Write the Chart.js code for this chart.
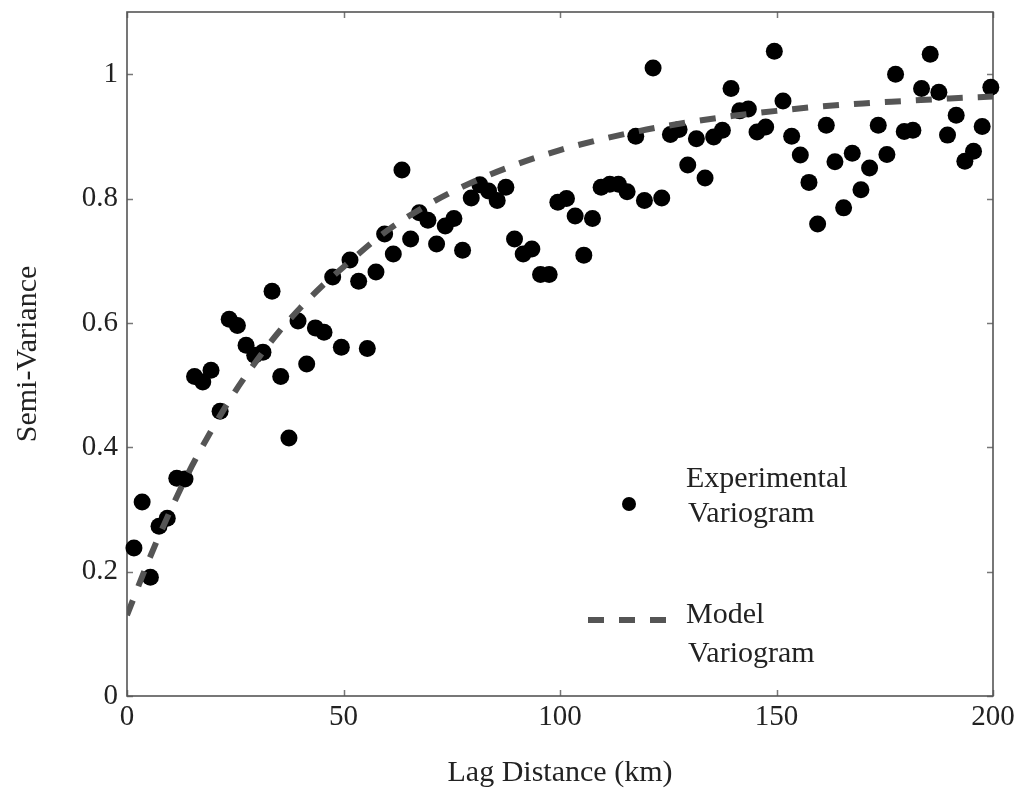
<!DOCTYPE html>
<html>
<head>
<meta charset="utf-8">
<script src="https://cdn.jsdelivr.net/npm/chart.js@4/dist/chart.umd.min.js"></script>
<style>
  html, body { margin: 0; padding: 0; background: #fff; }
  #wrap { width: 1019px; height: 795px; }
</style>
</head>
<body>
<div id="wrap"><canvas id="c" width="1019" height="795"></canvas></div>
<script>
// ---- data ----
const lagDistance = [
  1.6, 3.5, 5.4, 7.4, 9.3, 11.5, 13.4, 15.6, 17.5, 19.4,
  21.5, 23.6, 25.5, 27.5, 29.5, 31.4, 33.5, 35.5, 37.4, 39.5,
  41.5, 43.5, 45.5, 47.5, 49.5, 51.5, 53.5, 55.5, 57.5, 59.5,
  61.5, 63.5, 65.5, 67.5, 69.5, 71.5, 73.5, 75.5, 77.5, 79.5,
  81.5, 83.5, 85.5, 87.5, 89.5, 91.5, 93.5, 95.5, 97.5, 99.5,
  101.5, 103.5, 105.5, 107.5, 109.5, 111.5, 113.5, 115.5, 117.5, 119.5,
  121.5, 123.5, 125.5, 127.5, 129.5, 131.5, 133.5, 135.5, 137.5, 139.5,
  141.5, 143.5, 145.5, 147.5, 149.5, 151.5, 153.5, 155.5, 157.5, 159.5,
  161.5, 163.5, 165.5, 167.5, 169.5, 171.5, 173.5, 175.5, 177.5, 179.5,
  181.5, 183.5, 185.5, 187.5, 189.5, 191.5, 193.5, 195.5, 197.5, 199.5
];
const semiVariance = [
  0.238, 0.312, 0.191, 0.273, 0.286, 0.350, 0.349, 0.514, 0.505, 0.524,
  0.458, 0.606, 0.596, 0.564, 0.548, 0.553, 0.651, 0.514, 0.415, 0.603,
  0.534, 0.592, 0.585, 0.674, 0.561, 0.701, 0.667, 0.559, 0.682, 0.743,
  0.711, 0.846, 0.735, 0.777, 0.765, 0.727, 0.756, 0.768, 0.717, 0.801,
  0.822, 0.812, 0.797, 0.818, 0.735, 0.711, 0.719, 0.678, 0.678, 0.794,
  0.800, 0.772, 0.709, 0.768, 0.818, 0.823, 0.823, 0.811, 0.900, 0.797,
  1.010, 0.801, 0.903, 0.911, 0.854, 0.896, 0.833, 0.899, 0.910, 0.977,
  0.941, 0.944, 0.907, 0.915, 1.037, 0.957, 0.900, 0.870, 0.826, 0.759,
  0.918, 0.859, 0.785, 0.873, 0.814, 0.849, 0.918, 0.871, 1.000, 0.908,
  0.910, 0.977, 1.032, 0.971, 0.902, 0.934, 0.860, 0.876, 0.916, 0.979
];
const modelLag = [0, 5, 10, 15, 20, 25, 30, 35, 40, 45, 50, 60, 70, 80, 90, 100, 110, 120, 130, 140, 150, 160, 170, 180, 190, 200];
const modelValue = [0.13, 0.218, 0.298, 0.37, 0.433, 0.49, 0.54, 0.585, 0.624, 0.659, 0.69, 0.748, 0.792, 0.827, 0.855, 0.878, 0.896, 0.911, 0.923, 0.933, 0.941, 0.948, 0.953, 0.957, 0.961, 0.964];
const xTicks = [0, 50, 100, 150, 200];
const yTicks = [0, 0.2, 0.4, 0.6, 0.8, 1];
const xTitle = 'Lag Distance (km)';
const yTitle = 'Semi-Variance';
const legendExp = ['Experimental', 'Variogram'];
const legendModel = ['Model', 'Variogram'];

const FONT = '"Liberation Serif", "Times New Roman", serif';
const TEXT = '#222';
const DASH_COLOR = '#555';

const framePlugin = {
  id: 'frame',
  beforeDatasetsDraw(chart) {
    const {ctx, chartArea: a, scales} = chart;
    ctx.save();
    // inward ticks on all four sides
    ctx.strokeStyle = '#777';
    ctx.lineWidth = 1.5;
    const tl = 6;
    xTicks.forEach(v => {
      const px = Math.round(scales.x.getPixelForValue(v)) + 0.5;
      ctx.beginPath();
      ctx.moveTo(px, a.bottom); ctx.lineTo(px, a.bottom - tl);
      ctx.moveTo(px, a.top); ctx.lineTo(px, a.top + tl);
      ctx.stroke();
    });
    yTicks.forEach(v => {
      const py = Math.round(scales.y.getPixelForValue(v)) + 0.5;
      ctx.beginPath();
      ctx.moveTo(a.left, py); ctx.lineTo(a.left + tl, py);
      ctx.moveTo(a.right, py); ctx.lineTo(a.right - tl, py);
      ctx.stroke();
    });
    // box
    ctx.strokeStyle = '#555';
    ctx.lineWidth = 1.6;
    ctx.strokeRect(a.left, a.top, a.right - a.left, a.bottom - a.top);
    ctx.restore();
  },
  afterDatasetsDraw(chart) {
    const {ctx, chartArea: a} = chart;
    ctx.save();
    // legend
    const lx = a.left + 502;
    ctx.fillStyle = '#000';
    ctx.beginPath();
    ctx.arc(lx, a.top + 492, 7, 0, Math.PI * 2);
    ctx.fill();
    ctx.strokeStyle = DASH_COLOR;
    ctx.lineWidth = 6;
    ctx.setLineDash([16, 15]);
    ctx.beginPath();
    ctx.moveTo(a.left + 461, a.top + 608);
    ctx.lineTo(a.left + 541, a.top + 608);
    ctx.stroke();
    ctx.setLineDash([]);
    ctx.fillStyle = TEXT;
    ctx.font = '30px ' + FONT;
    ctx.textAlign = 'left';
    ctx.textBaseline = 'alphabetic';
    const tx = a.left + 559;
    ctx.fillText(legendExp[0], tx, a.top + 475);
    ctx.fillText(legendExp[1], tx + 2, a.top + 510);
    ctx.fillText(legendModel[0], tx, a.top + 611);
    ctx.fillText(legendModel[1], tx + 2, a.top + 650);
    ctx.restore();
  }
};

new Chart(document.getElementById('c'), {
  type: 'scatter',
  data: {
    datasets: [
      {
        type: 'line',
        label: 'Model Variogram',
        data: modelLag.map((x, i) => ({x, y: modelValue[i]})),
        borderColor: DASH_COLOR,
        borderWidth: 6,
        borderDash: [16, 15],
        borderCapStyle: 'butt',
        pointRadius: 0,
        fill: false,
        cubicInterpolationMode: 'monotone',
        order: 0
      },
      {
        label: 'Experimental Variogram',
        data: lagDistance.map((x, i) => ({x, y: semiVariance[i]})),
        backgroundColor: '#000',
        borderWidth: 0,
        pointRadius: 8.5,
        pointHoverRadius: 8.5,
        clip: false,
        order: 1
      }
    ]
  },
  options: {
    responsive: false,
    animation: false,
    events: [],
    layout: { padding: { top: 12, right: 26, left: 0, bottom: 0 } },
    plugins: { legend: { display: false }, tooltip: { enabled: false } },
    scales: {
      x: {
        type: 'linear', min: 0, max: 200,
        grid: { display: false, drawTicks: false },
        border: { display: false },
        afterBuildTicks: s => { s.ticks = xTicks.map(v => ({value: v})); },
        afterFit: s => { s.height = 99; s.paddingLeft = 0; s.paddingRight = 0; },
        ticks: { color: TEXT, font: { family: FONT, size: 29 }, padding: 4, maxRotation: 0,
                 callback: v => String(v) },
        title: { display: true, text: xTitle, color: TEXT, font: { family: FONT, size: 30 },
                 padding: { top: 0, bottom: 4 } }
      },
      y: {
        type: 'linear', min: 0, max: 1.1,
        grid: { display: false, drawTicks: false },
        border: { display: false },
        afterBuildTicks: s => { s.ticks = yTicks.map(v => ({value: v})); },
        afterFit: s => { s.width = 127; s.paddingTop = 0; s.paddingBottom = 0; },
        ticks: { color: TEXT, font: { family: FONT, size: 29 }, padding: 9,
                 callback: v => String(Math.round(v * 10) / 10) },
        title: { display: true, text: yTitle, color: TEXT, font: { family: FONT, size: 30 },
                 padding: { top: 10, bottom: 0 } }
      }
    }
  },
  plugins: [framePlugin]
});
</script>
</body>
</html>
